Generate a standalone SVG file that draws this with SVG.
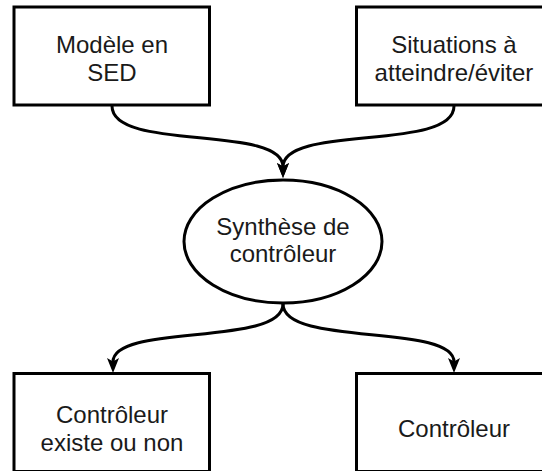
<svg xmlns="http://www.w3.org/2000/svg" width="542" height="471" viewBox="0 0 542 471">
<style>
.box{fill:#ffffff;stroke:#000000;stroke-width:3}
.lbl{font-family:"Liberation Sans",Arial,sans-serif;font-size:24px;fill:#1a1a1a;text-anchor:middle}
.edge{fill:none;stroke:#000000;stroke-width:3}
</style>
<defs>
<marker id="arr" markerUnits="userSpaceOnUse" markerWidth="15" markerHeight="12" viewBox="0 0 15 12" refX="4" refY="6" orient="auto">
<path d="M0,0 L15,6 L0,12 L3.5,6 Z" fill="#000000"/>
</marker>
</defs>
<rect width="542" height="471" fill="#ffffff"/>
<g id="connectors">
<path class="edge" d="M112,106 C112,152 283,124 283,167" marker-end="url(#arr)"/>
<path class="edge" d="M454,106 C454,152 283,124 283,167" marker-end="url(#arr)"/>
<path class="edge" d="M283,304 C283,347 113,323 113,362" marker-end="url(#arr)"/>
<path class="edge" d="M283,304 C283,347 454,323 454,362" marker-end="url(#arr)"/>
</g>
<g id="modele">
<rect class="box" x="14" y="7" width="195.5" height="98"/>
<text class="lbl" x="112" y="53">Modèle en</text>
<text class="lbl" x="112" y="81">SED</text>
</g>
<g id="situations">
<rect class="box" x="356.5" y="7" width="195.5" height="98"/>
<text class="lbl" x="454" y="53">Situations à</text>
<text class="lbl" x="454" y="81">atteindre/éviter</text>
</g>
<g id="synthese">
<ellipse class="box" cx="283" cy="241.5" rx="99" ry="61.5"/>
<text class="lbl" x="283" y="235">Synthèse de</text>
<text class="lbl" x="283" y="262">contrôleur</text>
</g>
<g id="existe">
<rect class="box" x="14" y="373.5" width="195.5" height="98"/>
<text class="lbl" x="112" y="423">Contrôleur</text>
<text class="lbl" x="112" y="451">existe ou non</text>
</g>
<g id="controleur">
<rect class="box" x="356.5" y="373.5" width="195.5" height="98"/>
<text class="lbl" x="454" y="437">Contrôleur</text>
</g>
</svg>
